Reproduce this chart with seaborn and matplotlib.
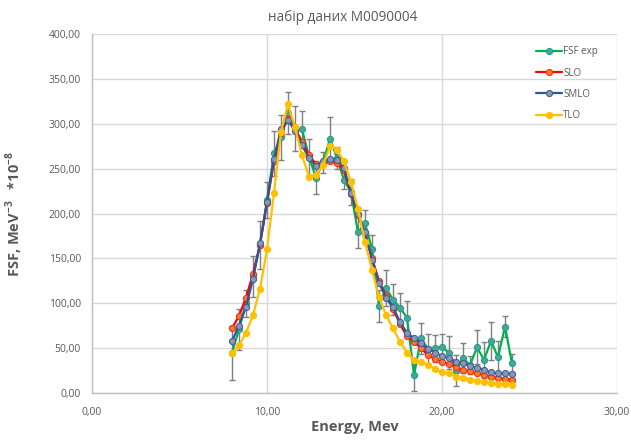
"""
FSF data set M0090004: experiment vs SLO / SMLO / TLO models
"""

import matplotlib
matplotlib.use("Agg")
import matplotlib.pyplot as plt
import seaborn as sns
from matplotlib.ticker import FuncFormatter, MultipleLocator

# Energy grid, MeV
energy = [8.0, 8.4, 8.8, 9.2, 9.6, 10.0, 10.4, 10.8, 11.2, 11.6,
          12.0, 12.4, 12.8, 13.2, 13.6, 14.0, 14.4, 14.8, 15.2, 15.6,
          16.0, 16.4, 16.8, 17.2, 17.6, 18.0, 18.4, 18.8, 19.2, 19.6,
          20.0, 20.4, 20.8, 21.2, 21.6, 22.0, 22.4, 22.8, 23.2, 23.6, 24.0]

# Experimental FSF and its errors (*10^-8 MeV^-3)
fsf_exp = [45, 71, 100, 130, 165, 215, 267, 285, 312, 295,
           294, 263, 240, 257, 283, 262, 237, 224, 179, 189,
           161, 97, 117, 104, 95, 84, 20, 61, 49, 50,
           51, 45, 25, 39, 31, 51, 37, 58, 40, 74, 33]
fsf_err = [30, 23, 15, 23, 27, 20, 25, 25, 23, 25,
           20, 20, 18, 12, 25, 12, 10, 15, 17, 15,
           15, 18, 20, 17, 17, 18, 18, 17, 17, 15,
           15, 18, 17, 17, 10, 19, 20, 21, 18, 12, 10]

# Model curves
slo = [72, 86, 106, 133, 165, 212, 258, 290, 305, 295,
       280, 265, 255, 255, 258, 256, 248, 222, 198, 178,
       150, 125, 108, 94, 77, 63, 57, 50, 42, 38,
       35, 32, 29, 26, 24, 22, 20, 18, 17, 16, 15]
smlo = [58, 75, 96, 127, 167, 213, 261, 294, 304, 292,
        276, 262, 253, 258, 261, 260, 251, 223, 200, 179,
        148, 123, 106, 96, 79, 67, 61, 56, 49, 45,
        41, 39, 35, 33, 30, 28, 26, 23, 22, 22, 21]
tlo = [45, 53, 67, 87, 116, 160, 223, 291, 322, 296,
       265, 241, 243, 254, 275, 271, 258, 235, 205, 168,
       137, 107, 87, 72, 57, 45, 37, 35, 31, 27,
       23, 22, 18, 17, 15, 13, 12, 11, 10, 10, 9]

sns.set_theme(style="white")
plt.rcParams["font.family"] = ["Open Sans", "DejaVu Sans"]
plt.rcParams["mathtext.fontset"] = "custom"
plt.rcParams["mathtext.rm"] = "Open Sans"
plt.rcParams["mathtext.bf"] = "Open Sans:bold"

text_gray = "#595959"

fig = plt.figure(figsize=(6.31, 4.41), dpi=100)
ax = fig.add_axes([0.1458, 0.1088, 0.832, 0.814])

# error bars of the experiment
ax.errorbar(energy, fsf_exp, yerr=fsf_err, fmt="none", ecolor="#7f7f7f",
            elinewidth=1, capsize=2.5, capthick=1, zorder=2)

series = [
    ("FSF exp", fsf_exp, "#00b050", "#4e9fae", "#1aa870"),
    ("SLO", slo, "#ff0000", "#ed7d31", "#ff2a10"),
    ("SMLO", smlo, "#2f5597", "#8c96ad", "#41609f"),
    ("TLO", tlo, "#ffc000", "#ffc000", "#ffc000"),
]
for i, (label, vals, lc, mf, me) in enumerate(series):
    sns.lineplot(x=energy, y=vals, ax=ax, color=lc, linewidth=1.6,
                 marker="o", markersize=4.4, markerfacecolor=mf,
                 markeredgecolor=me, markeredgewidth=0.8,
                 label=label, zorder=3 + i)

ax.set_xlim(0, 30)
ax.set_ylim(0, 400)
ax.xaxis.set_major_locator(MultipleLocator(10))
ax.yaxis.set_major_locator(MultipleLocator(50))
comma_fmt = FuncFormatter(lambda v, p: f"{v:.2f}".replace(".", ","))
ax.xaxis.set_major_formatter(comma_fmt)
ax.yaxis.set_major_formatter(comma_fmt)

ax.grid(True, color="#d9d9d9", linewidth=1)
for side in ["top", "right"]:
    ax.spines[side].set_visible(False)
for side in ["left", "bottom"]:
    ax.spines[side].set_color("#bfbfbf")
    ax.spines[side].set_linewidth(1)

ax.tick_params(axis="both", direction="out", length=4, width=1,
               color="#bfbfbf", labelsize=7.5, labelcolor=text_gray)
ax.tick_params(axis="x", pad=6)
ax.tick_params(axis="y", pad=4)

ax.set_xlabel("Energy, Mev", fontsize=10.5, fontweight="bold", color=text_gray)
ax.set_ylabel(r"FSF, MeV$^{\mathbf{-3}}$   *10$^{\mathbf{-8}}$",
              fontsize=10.5, fontweight="bold", color=text_gray)
ax.xaxis.set_label_coords(0.5, -0.075)
ax.yaxis.set_label_coords(-0.128, 0.5)

fig.text(0.5436, 0.961, "набір даних M0090004", ha="center", va="center",
         fontsize=9.8, color=text_gray)

leg = ax.legend(loc="upper left", bbox_to_anchor=(0.83, 0.99), frameon=False,
                fontsize=7, handlelength=2.6, handletextpad=0.15,
                labelspacing=1.05)
for t in leg.get_texts():
    t.set_color(text_gray)

fig.savefig("out.png", dpi=100)
plt.close(fig)
